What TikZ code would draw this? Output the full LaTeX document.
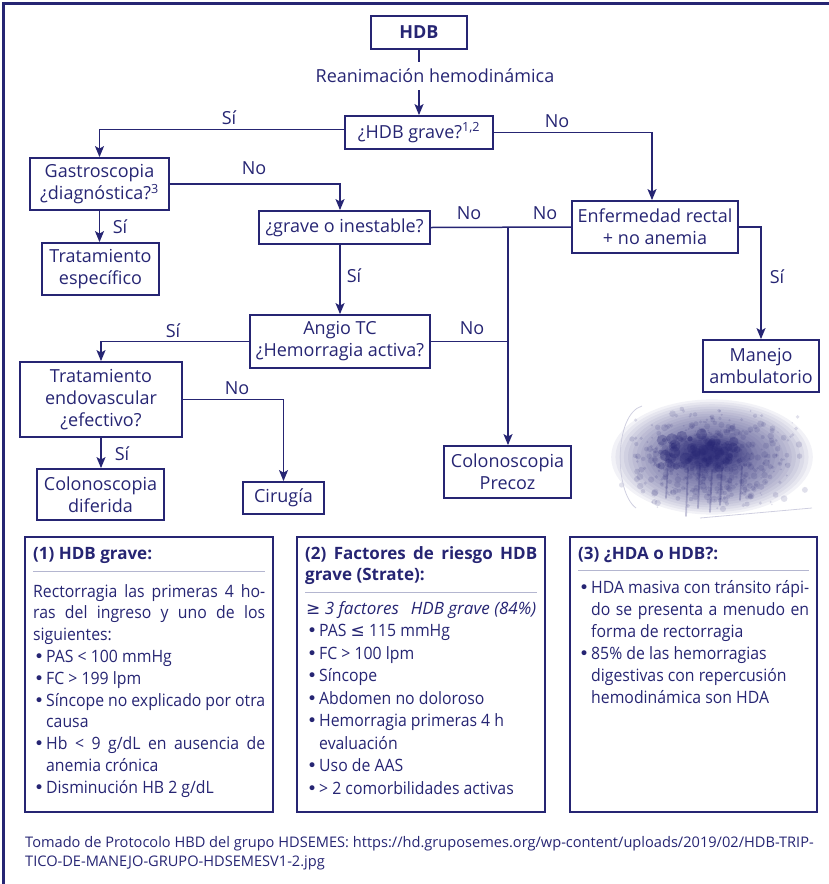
\documentclass[tikz,border=0pt]{standalone}
\usepackage{fontspec}
\setmainfont{Open Sans}
\newfontfamily\symf{DejaVu Sans}
\newfontfamily\bodyf[FakeStretch=0.93]{Open Sans}
\usetikzlibrary{arrows.meta}
\definecolor{navy}{RGB}{38,37,115}
\definecolor{sepc}{RGB}{180,182,208}
\newcommand\Ln[1]{\hbox to\hsize{#1\hfil}}
\newcommand\Lj[1]{\hbox to\hsize{#1}}
\newcommand\bu{\hbox to 13pt{\kern1pt{\symf •}\hfil}}
\newcommand\ind{\hbox to 13pt{}}
\newcommand\fsa{\fontsize{18}{22}\selectfont}
\newcommand\fsb{\fontsize{17}{21.8}\selectfont}
\newcommand\fsc{\fontsize{14.6}{19.5}\selectfont}
\begin{document}
\begin{tikzpicture}[x=1pt,y=-1pt,
  every node/.style={text=navy},
  fbox/.style={draw=navy, line width=1.8pt, align=center, inner sep=0pt, font=\fsa},
  conn/.style={draw=navy, line width=1.5pt},
  arr/.style={conn, -{Stealth[length=11pt,width=9pt,inset=2.5pt]}},
  lab/.style={font=\fsa, inner sep=0pt},
  tbox/.style={draw=navy, line width=1.6pt, inner sep=0pt},
  txt/.style={anchor=base west, inner sep=0pt, font=\fsb\bodyf},
  hdr/.style={anchor=base west, inner sep=0pt, font=\fsb\bfseries},
  sep/.style={draw=sepc, line width=1pt}
]
\useasboundingbox (0,0) rectangle (829,884);

% blob picture (drawn first, clipped)
\begin{scope}
\clip (610,396) rectangle (822,526);
\foreach \i in {1,...,24}{
  \fill[navy, opacity=0.06] (712,457) ellipse [x radius={4.2*\i}, y radius={2.4*\i}];
}
\foreach \i in {1,...,10}{
  \fill[navy, opacity=0.12] (706,453) ellipse [x radius={4.6*\i}, y radius={1.9*\i}];
}
\pgfmathsetseed{7}
\foreach \k in {1,...,520}{
  \pgfmathsetmacro\px{712+48*(rand+rand)}
  \pgfmathsetmacro\py{457+27*(rand+rand)}
  \pgfmathsetmacro\pr{0.7+2.8*rnd}
  \fill[navy, opacity=0.14] (\px,\py) circle[radius=\pr];
}
\foreach \k in {1,...,60}{
  \pgfmathsetmacro\px{705+30*(rand+rand)}
  \pgfmathsetmacro\py{452+10*(rand+rand)}
  \pgfmathsetmacro\pr{2+4*rnd}
  \fill[navy, opacity=0.3] (\px,\py) circle[radius=\pr];
}
\foreach \a/\b/\c in {688/468/516, 700/466/508, 722/468/505, 742/466/500, 668/464/498, 712/470/512}{
  \draw[navy, opacity=0.25, line width=1.8pt, line cap=round] (\a,\b) -- (\a-2,\c);
}
\draw[navy!22, line width=0.8pt] (642,406) .. controls (614,414) and (614,492) .. (636,508);
\draw[navy!22, line width=0.8pt] (700,518) -- (812,508);
\end{scope}

\draw[navy, line width=3pt] (3,884) -- (3,3) -- (829,3);

% flowchart nodes
\node[fbox, minimum width=96pt, minimum height=33pt, font=\fsa\bfseries] (hdb) at (419,32.5) {HDB};
\node[lab, minimum height=28pt] (rean) at (435,76) {Reanimación hemodinámica};
\node[fbox, minimum width=148pt, minimum height=33pt] (grave) at (419,132.5) {¿HDB grave?\textsuperscript{1,2}};
\node[fbox, minimum width=139pt, minimum height=52pt] (gastro) at (99.5,184) {Gastroscopia\\¿diagnóstica?\textsuperscript{3}};
\node[fbox, minimum width=117pt, minimum height=52pt] (tesp) at (100.5,269) {Tratamiento\\específico};
\node[fbox, minimum width=171pt, minimum height=33pt] (inest) at (344.5,227.5) {¿grave o inestable?};
\node[fbox, minimum width=166pt, minimum height=52pt] (enf) at (655,227) {Enfermedad rectal\\+ no anemia};
\node[fbox, minimum width=180pt, minimum height=53pt] (angio) at (340,341.5) {Angio TC\\¿Hemorragia activa?};
\node[fbox, minimum width=162pt, minimum height=75pt] (endo) at (101,399.5) {Tratamiento\\endovascular\\¿efectivo?};
\node[fbox, minimum width=127pt, minimum height=51pt] (dif) at (100.5,494.5) {Colonoscopia\\diferida};
\node[fbox, minimum width=81pt, minimum height=32pt] (cir) at (283.5,498) {Cirugía};
\node[fbox, minimum width=127pt, minimum height=52pt] (prec) at (507.5,472) {Colonoscopia\\Precoz};
\node[fbox, minimum width=116pt, minimum height=52pt] (man) at (761,366) {Manejo\\ambulatorio};
\coordinate (j) at (508,227.5);

% connectors
\draw[conn] (hdb.south) -- (hdb.south |- rean.north);
\draw[arr] (hdb.south |- rean.south) -- (grave.north);
\draw[arr] ([yshift=3pt]grave.west) -| (gastro.north);
\draw[arr] (grave.east) -| ([xshift=-3pt]enf.north);
\draw[arr] (gastro.east) -| ([xshift=-4.5pt]inest.north);
\draw[arr] (gastro.south) -- (gastro.south |- tesp.north);
\draw[conn] (inest.east) -- (enf.west);
\draw[arr] (j) -- (j |- prec.north);
\draw[conn] (angio.east) -- (angio.east -| j);
\draw[arr] (angio.north |- inest.south) -- (angio.north);
\draw[arr] (angio.west) -| (endo.north);
\draw[arr] (enf.east) -| (man.north);
\draw[arr] (endo.east) -| (cir.north);
\draw[arr] (endo.south) -- (endo.south |- dif.north);

% labels
\node[lab] (l1) at (229,118) {Sí};
\node[lab] (l2) at (557,121) {No};
\node[lab] (l3) at (254,168) {No};
\node[lab] (l4) at (120,227) {Sí};
\node[lab] (l5) at (469,213) {No};
\node[lab] (l6) at (545,213) {No};
\node[lab] (l7) at (354,276) {Sí};
\node[lab] (l8) at (777,277) {Sí};
\node[lab] (l9) at (173,331) {Sí};
\node[lab] (l10) at (472,328) {No};
\node[lab] (l11) at (237,388) {No};
\node[lab] (l12) at (122,454) {Sí};

% bottom boxes
\node[tbox, minimum width=248pt, minimum height=275pt] (box1) at (149,674.5) {};
\node[tbox, minimum width=248pt, minimum height=275pt] (box2) at (421,674.5) {};
\node[tbox, minimum width=247pt, minimum height=275pt] (box3) at (693.5,674.5) {};
\draw[sep] (33,571) -- (265,571);
\draw[sep] (305,592) -- (537,592);
\draw[sep] (578,570) -- (809,570);

\node[hdr] (h1) at (33,559) {(1) HDB grave:};
\node[txt] (t1) at (33,597) {\vtop{\hsize=232pt \baselineskip=21.8pt \lineskiplimit=-50pt
 \Lj{Rectorragia las primeras 4 ho-}
 \Lj{ras del ingreso y uno de los}
 \Ln{siguientes:}
 \Ln{\bu PAS < 100 mmHg}
 \Ln{\bu FC > 199 lpm}
 \Lj{\bu Síncope no explicado por otra}
 \Ln{\ind causa}
 \Lj{\bu Hb < 9 g/dL en ausencia de}
 \Ln{\ind anemia crónica}
 \Ln{\bu Disminución HB 2 g/dL}}};

\node[hdr] (h2) at (305,559) {\vtop{\hsize=232pt \baselineskip=21.8pt
 \Lj{(2) Factores de riesgo HDB}
 \Ln{grave (Strate):}}};
\node[txt] (t2) at (306,614) {\vtop{\hsize=230pt \baselineskip=22.5pt \lineskiplimit=-50pt
 \Lj{\normalfont\itshape{\symf ≥} 3 factores\hfill HDB grave (84\%)}
 \Ln{\bu PAS {\symf ≤} 115 mmHg}
 \Ln{\bu FC > 100 lpm}
 \Ln{\bu Síncope}
 \Ln{\bu Abdomen no doloroso}
 \Ln{\bu Hemorragia primeras 4 h}
 \Ln{\ind evaluación}
 \Ln{\bu Uso de AAS}
 \Ln{\bu > 2 comorbilidades activas}}};

\node[hdr] (h3) at (578,559) {(3) ¿HDA o HDB?:};
\node[txt] (t3) at (578,593) {\vtop{\hsize=231pt \baselineskip=22pt \lineskiplimit=-50pt
 \Lj{\bu HDA masiva con tránsito rápi-}
 \Lj{\ind do se presenta a menudo en}
 \Ln{\ind forma de rectorragia}
 \Ln{\bu 85\% de las hemorragias}
 \Ln{\ind digestivas con repercusión}
 \Ln{\ind hemodinámica son HDA}}};

% footer
\node[anchor=base west, inner sep=0pt, font=\fsc] (foot) at (25,847) {\vtop{\hsize=800pt \baselineskip=19.5pt
 \Ln{Tomado de Protocolo HBD del grupo HDSEMES: https://hd.gruposemes.org/wp-content/uploads/2019/02/HDB-TRIP-}
 \Ln{TICO-DE-MANEJO-GRUPO-HDSEMESV1-2.jpg}}};
\end{tikzpicture}
\end{document}
